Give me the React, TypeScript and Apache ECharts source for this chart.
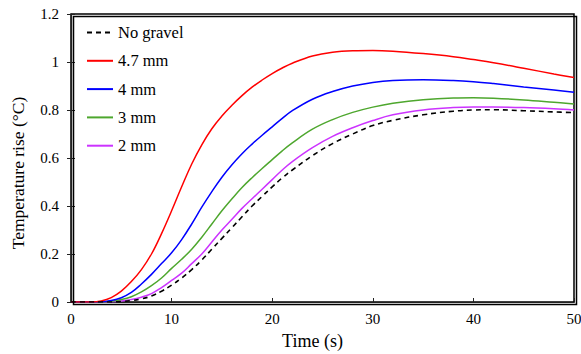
import React, { useEffect, useRef } from "react";
import * as echarts from "echarts";

const times = [0, 2, 3, 4, 5, 6, 7, 8, 9, 10, 11, 12, 13, 14, 15, 16, 17, 18, 19, 20, 21, 22, 24, 26, 28, 30, 32, 35, 38, 40, 42, 45, 48, 50];

const noGravel = [0, 0, 0, 0, 0.002, 0.006, 0.013, 0.025, 0.045, 0.07, 0.1, 0.135, 0.175, 0.22, 0.265, 0.31, 0.355, 0.4, 0.44, 0.48, 0.517, 0.55, 0.61, 0.66, 0.7, 0.735, 0.757, 0.78, 0.795, 0.8, 0.801, 0.797, 0.792, 0.789];
const mm47 = [0, 0, 0.004, 0.018, 0.045, 0.085, 0.135, 0.2, 0.285, 0.38, 0.48, 0.575, 0.655, 0.722, 0.775, 0.82, 0.86, 0.895, 0.925, 0.952, 0.975, 0.995, 1.025, 1.041, 1.047, 1.048, 1.045, 1.035, 1.022, 1.01, 0.997, 0.974, 0.95, 0.935];
const mm4 = [0, 0, 0.001, 0.006, 0.018, 0.04, 0.075, 0.115, 0.16, 0.205, 0.26, 0.325, 0.395, 0.46, 0.52, 0.572, 0.618, 0.658, 0.695, 0.73, 0.765, 0.797, 0.845, 0.877, 0.9, 0.915, 0.923, 0.926, 0.923, 0.918, 0.91, 0.896, 0.883, 0.874];
const mm3 = [0, 0, 0, 0.003, 0.01, 0.022, 0.042, 0.068, 0.1, 0.14, 0.178, 0.22, 0.27, 0.325, 0.38, 0.43, 0.477, 0.518, 0.556, 0.593, 0.63, 0.663, 0.72, 0.76, 0.79, 0.812, 0.828, 0.843, 0.85, 0.851, 0.849, 0.842, 0.832, 0.825];
const mm2 = [0, 0, 0, 0.001, 0.004, 0.01, 0.02, 0.035, 0.06, 0.09, 0.12, 0.16, 0.2, 0.25, 0.3, 0.345, 0.39, 0.43, 0.47, 0.51, 0.55, 0.585, 0.643, 0.69, 0.726, 0.756, 0.78, 0.8, 0.81, 0.812, 0.812, 0.81, 0.805, 0.8];

const seriesNames = ["No gravel", "4.7 mm", "4 mm", "3 mm", "2 mm"];
const seriesValues = [noGravel, mm47, mm4, mm3, mm2];
const seriesColors = ["#000000", "#ff0000", "#0000ff", "#4ea72e", "#cc33ff"];

const yTicks = [0, 0.2, 0.4, 0.6, 0.8, 1, 1.2];
const xTicks = [0, 10, 20, 30, 40, 50];

const FONT = "'Liberation Serif', 'Times New Roman', serif";

export default function App() {
  const ref = useRef<HTMLDivElement>(null);
  useEffect(() => {
    document.body.style.margin = "0";
    document.body.style.overflow = "hidden";
    if (!ref.current) return;
    const chart = echarts.init(ref.current, null, { renderer: "svg", width: 581, height: 354 });
    const series = seriesNames.map((name, i) => ({
      name,
      type: "line",
      data: times.map((t, j) => [t, seriesValues[i][j]]),
      smooth: 0.4,
      showSymbol: false,
      symbol: "none",
      lineStyle: {
        color: seriesColors[i],
        width: i === 0 ? 1.6 : 1.5,
        type: i === 0 ? [5, 4] : "solid",
      },
      itemStyle: { color: seriesColors[i] },
      z: 10 - i,
    }));
    const xMin = xTicks[0];
    const xMax = xTicks[xTicks.length - 1];
    const yMin = yTicks[0];
    const yMax = yTicks[yTicks.length - 1];
    chart.setOption({
      animation: false,
      textStyle: { fontFamily: FONT },
      grid: {
        left: 71,
        right: 7,
        top: 14,
        bottom: 52,
        outerBoundsMode: "none",
        containLabel: false,
        show: true,
        borderColor: "#000",
        borderWidth: 1.5,
        backgroundColor: "rgba(0,0,0,0)",
      },
      legend: {
        orient: "vertical",
        left: 81,
        top: 19,
        itemWidth: 26,
        itemHeight: 14,
        itemGap: 11.3,
        data: seriesNames,
        itemStyle: { opacity: 0 },
        textStyle: { fontFamily: FONT, fontSize: 16.5, lineHeight: 14, color: "#000" },
      },
      xAxis: {
        type: "value",
        min: xMin,
        max: xMax,
        interval: 10,
        name: "Time (s)",
        nameLocation: "middle",
        nameGap: 30,
        nameTextStyle: { fontFamily: FONT, fontSize: 18, color: "#000", padding: [0, 20, 0, 0] },
        axisLine: { show: true, lineStyle: { color: "#222", width: 1.2 } },
        axisTick: { show: true, inside: true, length: 4, lineStyle: { color: "#222" } },
        axisLabel: { fontFamily: FONT, fontSize: 15, color: "#000", margin: 9 },
        splitLine: { show: false },
      },
      yAxis: [
        {
          type: "value",
          min: yMin,
          max: yMax,
          interval: 0.2,
          name: "Temperature rise (\u00B0C)",
          nameLocation: "middle",
          nameGap: 44,
          nameTextStyle: { fontFamily: FONT, fontSize: 17.5, color: "#000", padding: [0, 30, 0, 0] },
          axisLine: { show: true, lineStyle: { color: "#222", width: 1.2 } },
          axisTick: { show: true, inside: true, length: 4, lineStyle: { color: "#222" } },
          axisLabel: { fontFamily: FONT, fontSize: 15, color: "#000", margin: 12 },
          splitLine: { show: false },
        },
        {
          type: "value",
          position: "left",
          min: yMin,
          max: yMax,
          interval: 0.2,
          axisLine: { show: false },
          axisTick: { show: true, inside: false, length: 4, lineStyle: { color: "#222" } },
          axisLabel: { show: false },
          splitLine: { show: false },
        },
      ],
      graphic: [
        {
          type: "rect",
          silent: true,
          z: 100,
          left: 71,
          top: 14,
          shape: { x: 0, y: 0, width: 503, height: 288 },
          style: { fill: "none", stroke: "#000", lineWidth: 1.5 },
        },
      ],
      series,
    });
    return () => chart.dispose();
  }, []);
  return <div ref={ref} style={{ width: 581, height: 354 }} />;
}
